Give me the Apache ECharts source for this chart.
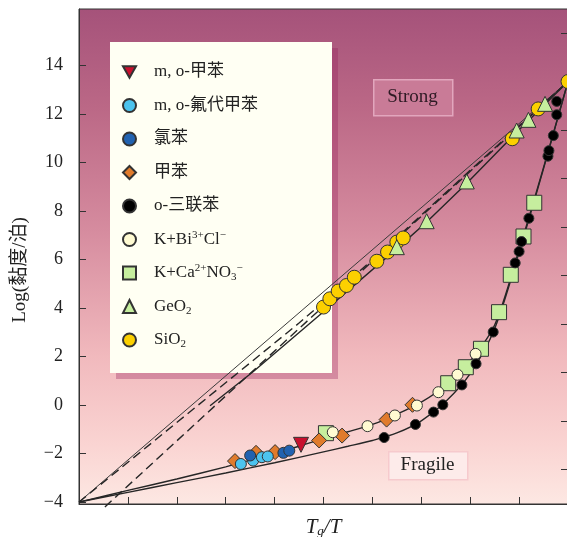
<!DOCTYPE html>
<html>
<head>
<meta charset="utf-8">
<title>Angell plot</title>
<script src="https://cdn.jsdelivr.net/npm/echarts@6/dist/echarts.min.js"></script>
<style>
  html, body { margin: 0; padding: 0; background: #fff; }
  #chart { width: 567px; height: 537px; }
</style>
</head>
<body>
<div id="chart"></div>
<script>
// values: x = Tg/T, y = log(viscosity / poise)
const yTicks = [-4, -2, 0, 2, 4, 6, 8, 10, 12, 14];
const rightTicks = [15.34, 13.34, 11.34, 9.34, 7.34, 5.34, 3.34, 1.34, -0.66, -2.66];

const strongLine = [[0, -4], [1, 13.34]];
const dashUpper = [[0, -4], [0.45, 3.38], [0.6, 5.98], [0.8, 9.68], [1, 13.34]];
const dashSiO2 = [[0.053, -4.2], [1, 13.34]];
const geo2Line = [[0.268, -0.03], [0.356, 1.37], [0.5, 3.85], [0.65, 6.45], [0.711, 7.55],
  [0.793, 9.15], [0.895, 11.25], [0.953, 12.4], [1, 13.34]];
const fragileUpper = [[0, -4], [0.1, -3.52], [0.2, -3.05], [0.3, -2.55], [0.35, -2.27], [0.4, -1.98],
  [0.45, -1.7], [0.5, -1.38], [0.55, -1.1], [0.6, -0.8], [0.65, -0.38], [0.7, 0.12], [0.75, 0.82],
  [0.8, 1.82], [0.85, 3.3], [0.9, 6.4], [0.95, 9.8], [1, 13.34]];
const fragileLower = [[0, -4], [0.1, -3.6], [0.2, -3.2], [0.3, -2.8], [0.4, -2.38], [0.5, -1.93],
  [0.55, -1.7], [0.6, -1.46], [0.65, -1.15], [0.7, -0.65], [0.75, 0.15], [0.8, 1.3], [0.85, 3.15],
  [0.9, 6.3], [0.95, 9.75], [1, 13.34]];

const moToluene = [[0.454, -1.64]];
const moFluoroToluene = [[0.331, -2.43], [0.356, -2.29], [0.374, -2.15], [0.386, -2.12]];
const chlorobenzene = [[0.350, -2.08], [0.418, -1.97], [0.430, -1.88]];
const toluene = [[0.319, -2.31], [0.362, -1.97], [0.401, -1.94], [0.491, -1.46], [0.538, -1.26],
  [0.629, -0.60], [0.682, 0.01]];
const oTerphenyl = [[0.624, -1.34], [0.688, -0.80], [0.725, -0.29], [0.744, 0.01], [0.783, 0.83],
  [0.812, 1.70], [0.847, 3.01], [0.892, 5.86], [0.900, 6.33], [0.905, 6.74], [0.920, 7.70],
  [0.959, 10.26], [0.961, 10.49], [0.970, 11.11], [0.977, 11.97], [0.977, 12.52]];
const kBiCl = [[0.519, -1.12], [0.590, -0.87], [0.646, -0.43], [0.691, -0.02], [0.735, 0.53],
  [0.774, 1.25], [0.811, 2.11]];
const kCaNO3 = [[0.505, -1.16], [0.755, 0.90], [0.791, 1.56], [0.822, 2.32], [0.859, 3.83],
  [0.883, 5.37], [0.909, 6.95], [0.931, 8.34]];
const geO2 = [[0.650, 6.51], [0.711, 7.58], [0.793, 9.22], [0.895, 11.32], [0.919, 11.76], [0.953, 12.42]];
const siO2 = [[0.500, 4.04], [0.513, 4.38], [0.530, 4.70], [0.547, 4.93], [0.563, 5.27], [0.609, 5.93],
  [0.631, 6.31], [0.650, 6.72], [0.663, 6.89], [0.886, 10.98], [0.939, 12.21], [1.0, 13.34]];

const legendNames = ["m, o-甲苯", "m, o-氟代甲苯", "氯苯", "甲苯", "o-三联苯",
  "K+Bi3+Cl-", "K+Ca2+NO3-", "GeO2", "SiO2"];
const legendRich = {
  "K+Bi3+Cl-": "K+Bi{sup|3+}Cl{sup|−}",
  "K+Ca2+NO3-": "K+Ca{sup|2+}NO{sub|3}{sup|−}",
  "GeO2": "GeO{sub|2}",
  "SiO2": "SiO{sub|2}",
};
// the first legend entry is an inverted triangle
const DOWN_TRIANGLE = "path://M0,0 L10,0 L5,8.66 Z";

const SERIF = '"Liberation Serif", "Times New Roman", "Noto Sans CJK SC", serif';

function curve(data, extra) {
  return Object.assign({
    type: "line", data, symbol: "none", silent: true, z: 2,
    lineStyle: { color: "#262626", width: 1.4 },
  }, extra);
}

function points(name, data, symbol, size, color, extra) {
  return Object.assign({
    name, type: "scatter", data, symbol, symbolSize: size, z: 3,
    itemStyle: { color, borderColor: "#333", borderWidth: 1, opacity: 1 },
  }, extra);
}

const chart = echarts.init(document.getElementById("chart"));

chart.setOption({
  animation: false,
  grid: {
    left: 79, right: -1, top: 9, bottom: 33,
    outerBoundsMode: "none",
    containLabel: false,
    show: true, borderColor: "#333", borderWidth: 1,
    backgroundColor: {
      type: "linear", x: 0, y: 0, x2: 0, y2: 1,
      colorStops: [
        { offset: 0, color: "#a5527a" },
        { offset: 0.2, color: "#bb6886" },
        { offset: 0.45, color: "#d68c9f" },
        { offset: 0.7, color: "#f1b9bd" },
        { offset: 0.88, color: "#fad4d2" },
        { offset: 1, color: "#fde8e3" },
      ],
    },
  },
  xAxis: {
    type: "value", min: 0, max: 1, interval: 0.1,
    axisLine: { onZero: false, lineStyle: { color: "#333" } },
    axisTick: { inside: true, length: 7, lineStyle: { color: "#333" } },
    axisLabel: { show: false },
    splitLine: { show: false },
    name: "{i|T}{s|g}{i|/T}",
    nameLocation: "middle",
    nameGap: 12,
    nameTextStyle: {
      rich: {
        i: { fontFamily: SERIF, fontStyle: "italic", fontSize: 21, color: "#222", lineHeight: 22 },
        s: { fontFamily: SERIF, fontStyle: "italic", fontSize: 13, color: "#222", verticalAlign: "bottom", lineHeight: 12 },
      },
    },
  },
  yAxis: [
    {
      type: "value", min: -4.08, max: 16.33,
      axisLine: { show: true, onZero: false, lineStyle: { color: "#333" } },
      axisTick: { show: true, inside: true, length: 7, customValues: yTicks, lineStyle: { color: "#333" } },
      axisLabel: {
        customValues: yTicks, margin: 16, color: "#222", fontFamily: SERIF, fontSize: 18,
        formatter: (v) => String(v).replace("-", "−"),
      },
      splitLine: { show: false },
    },
    {
      type: "value", position: "right", min: -4.08, max: 16.33,
      axisLine: { show: false, onZero: false },
      axisTick: { show: true, inside: true, length: 7, customValues: rightTicks, lineStyle: { color: "#333" } },
      axisLabel: { show: false },
      splitLine: { show: false },
    },
  ],
  legend: {
    data: legendNames.map((name, i) => (i === 0 ? { name, icon: DOWN_TRIANGLE } : name)),
    orient: "vertical",
    left: 122, top: 62,
    padding: 0,
    itemWidth: 13, itemHeight: 13,
    itemGap: 13.5,
    selectedMode: false,
    textStyle: {
      fontFamily: SERIF, fontSize: 17, color: "#222", lineHeight: 20, padding: [0, 0, 0, 13],
      rich: {
        sup: { fontFamily: SERIF, fontSize: 11, color: "#222", verticalAlign: "top", lineHeight: 11 },
        sub: { fontFamily: SERIF, fontSize: 11, color: "#222", verticalAlign: "bottom", lineHeight: 11 },
      },
    },
    formatter: (name) => legendRich[name] || name,
  },
  graphic: [
    { type: "rect", left: 116, top: 48, z: 1, silent: true,
      shape: { width: 222, height: 331 }, style: { fill: "rgba(150,30,90,0.33)" } },
    { type: "rect", left: 110, top: 42, z: 1, silent: true,
      shape: { width: 222, height: 331 }, style: { fill: "#fffff3" } },
    { type: "rect", left: 373, top: 79, z: 1, silent: true,
      shape: { width: 79, height: 36 }, style: { fill: "#c97b97", stroke: "#e2a6bd", lineWidth: 1.5 } },
    { type: "text", x: 412.5, y: 97, z: 1, silent: true,
      style: { text: "Strong", font: "19px " + SERIF, fill: "#2e1a24", textAlign: "center", textVerticalAlign: "middle" } },
    { type: "rect", left: 388, top: 451, z: 1, silent: true,
      shape: { width: 79, height: 28 }, style: { fill: "#fdebea", stroke: "#f6cacd", lineWidth: 1.5 } },
    { type: "text", x: 427.5, y: 465, z: 1, silent: true,
      style: { text: "Fragile", font: "19px " + SERIF, fill: "#222", textAlign: "center", textVerticalAlign: "middle" } },
    { type: "text", x: 20, y: 270, rotation: Math.PI / 2, z: 1, silent: true,
      style: { text: "Log(黏度/泊)", font: "19px " + SERIF, fill: "#222", textAlign: "center", textVerticalAlign: "middle" } },
  ],
  series: [
    curve(strongLine, { lineStyle: { color: "#3a3a3a", width: 1 } }),
    curve(dashUpper, { lineStyle: { color: "#262626", width: 1.4, type: [9, 5] } }),
    curve(dashSiO2, { clip: false, lineStyle: { color: "#262626", width: 1.4, type: [9, 5] } }),
    curve(geo2Line, {}),
    curve(fragileUpper, { smooth: 0.3 }),
    curve(fragileLower, { smooth: 0.3 }),
    points("K+Ca2+NO3-", kCaNO3, "rect", 15, "#c6ee9e"),
    points("甲苯", toluene, "diamond", 15, "#e07b2c"),
    points("SiO2", siO2, "circle", 14, "#fcd000"),
    points("GeO2", geO2, "triangle", 15, "#c6ee9e"),
    points("K+Bi3+Cl-", kBiCl, "circle", 11, "#fffbd2"),
    points("m, o-氟代甲苯", moFluoroToluene, "circle", 11, "#4cc3ee"),
    points("氯苯", chlorobenzene, "circle", 11, "#2162b0"),
    points("o-三联苯", oTerphenyl, "circle", 10, "#000000"),
    points("m, o-甲苯", moToluene, "triangle", 15, "#c8102e", { symbolRotate: 180 }),
  ],
});
</script>
</body>
</html>
